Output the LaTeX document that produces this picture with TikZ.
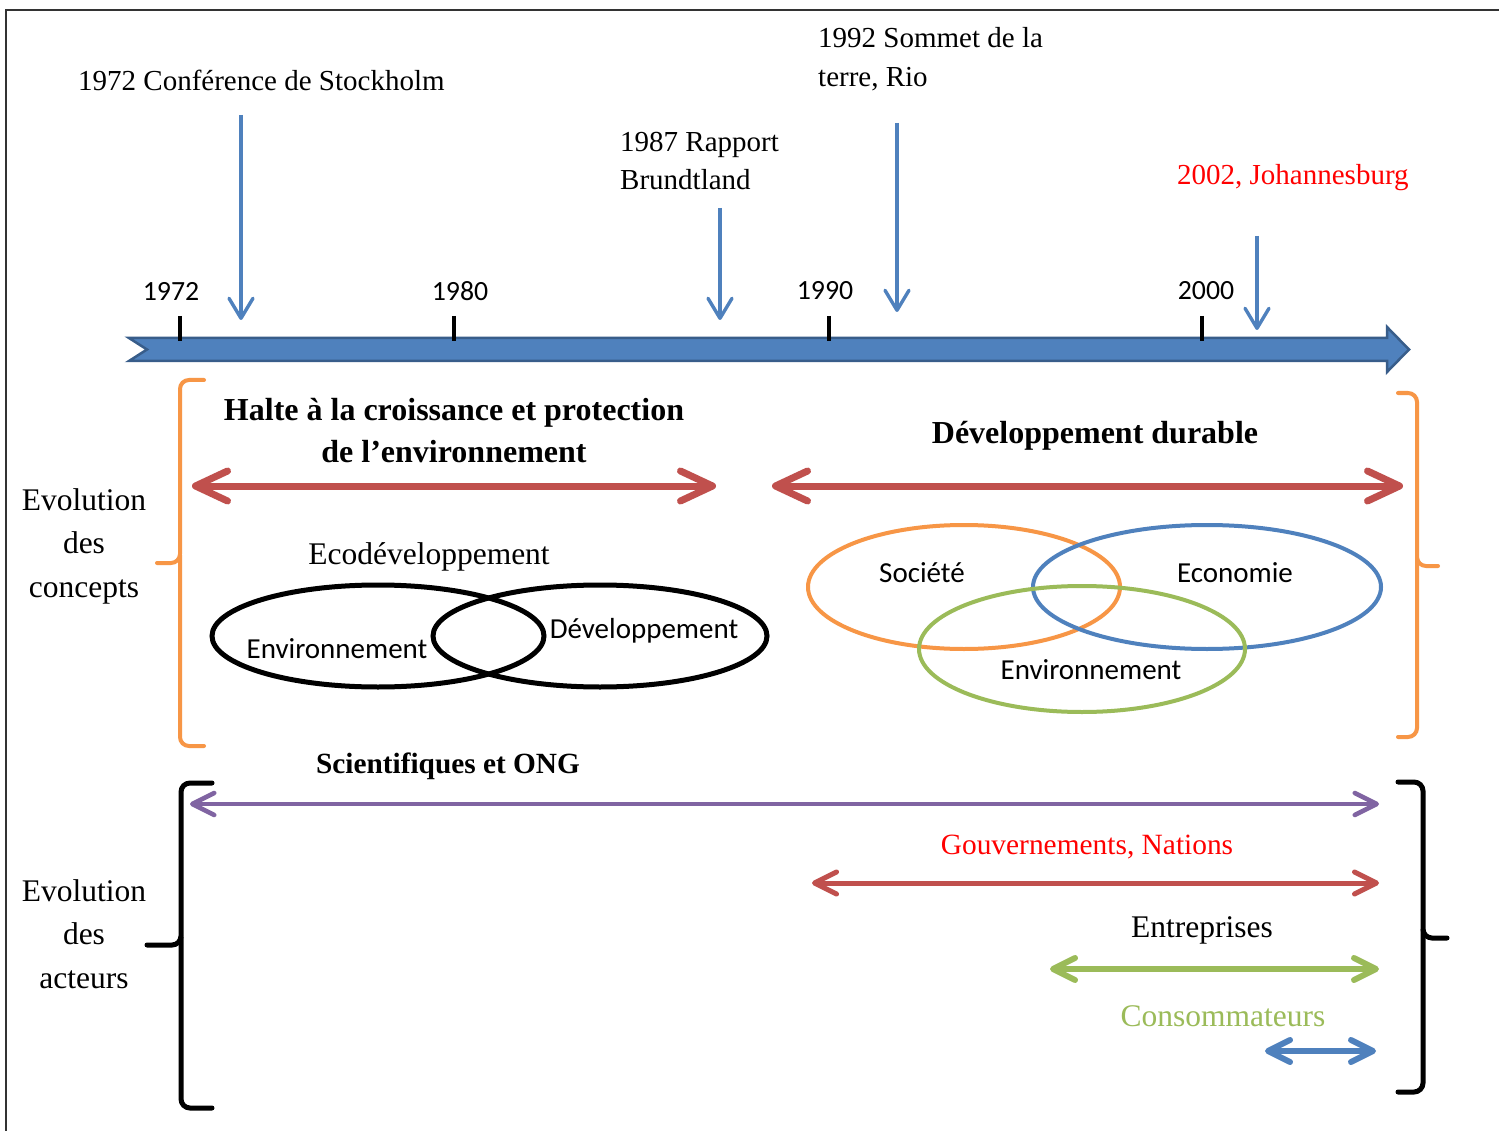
\documentclass[tikz,border=0pt]{standalone}
\usepackage{fontspec}
\setmainfont{Liberation Serif}
\newfontfamily\calfont{Carlito}
\usetikzlibrary{arrows.meta}
\definecolor{tlblue}{HTML}{4F81BD}
\definecolor{tldark}{HTML}{385D8A}
\definecolor{myred}{HTML}{C0504D}
\definecolor{myorange}{HTML}{F79646}
\definecolor{mygreen}{HTML}{9BBB59}
\definecolor{mypurple}{HTML}{8064A2}
\definecolor{brightred}{HTML}{FF0000}
\begin{document}
\begin{tikzpicture}[x=1pt,y=-1pt,
  serif/.style={font=\fontsize{31.5}{43.5}\selectfont, align=center, inner sep=0pt},
  mserif/.style={font=\fontsize{29.4}{40}\selectfont, align=center, inner sep=0pt},
  bserif/.style={font=\bfseries\fontsize{32}{42}\selectfont, align=center, inner sep=0pt},
  mbserif/.style={font=\bfseries\fontsize{29.3}{40}\selectfont, align=center, inner sep=0pt},
  small/.style={font=\fontsize{29}{38.5}\selectfont, align=left, inner sep=0pt},
  sans/.style={font=\calfont\fontsize{29}{35}\selectfont, inner sep=0pt},
  year/.style={font=\calfont\fontsize{27.8}{33}\selectfont, inner sep=0pt},
  evtarrow/.style={tlblue, line width=3.4pt, -{Straight Barb[length=20pt, width=24pt, round]}},
  bigdbl/.style={#1, line width=7pt, {Straight Barb[length=32pt, width=30pt, round]}-{Straight Barb[length=32pt, width=30pt, round]}},
  smalldbl/.style={#1, {Straight Barb[length=22pt, width=22pt, round]}-{Straight Barb[length=22pt, width=22pt, round]}},
  tick/.style={black, line width=4pt},
  brk/.style={line width=4pt, rounded corners=9pt, line cap=round}
]
\useasboundingbox (0,0) rectangle (1499,1131);
\fill[white] (0,0) rectangle (1499,1131);
% frame
\draw[black!80, line width=1.5pt] (6,1131) -- (6,10) -- (1499,10);

% timeline
\draw[tldark, fill=tlblue, line width=2.5pt, line join=miter]
  (129,338) -- (1387,338) -- (1387,327) -- (1409,349.5) -- (1387,372) -- (1387,361) -- (129,361) -- (147,349.5) -- cycle;
\foreach \n/\x in {a/180,b/454,c/829,d/1202}{
  \coordinate (t\n1) at (\x,316);
  \coordinate (t\n2) at (\x,341);
  \draw[tick] (t\n1) -- (t\n2);
}
\node[year] (y1972) at (171,291) {1972};
\node[year] (y1980) at (460,291) {1980};
\node[year] (y1990) at (825,291) {1990};
\node[year] (y2000) at (1206,291) {2000};

% events
\node[small, anchor=west] (e1972) at (78,80) {1972 Conférence de Stockholm};
\node[small, anchor=west] (e1987) at (620,161) {1987 Rapport\\Brundtland};
\node[small, anchor=west] (e1992) at (818,59) {1992 Sommet de la\\terre, Rio};
\node[small, anchor=west, text=brightred] (e2002) at (1177,178) {2002, Johannesburg};
\coordinate (a1s) at (241,115); \coordinate (a1e) at (241,320);
\coordinate (a2s) at (720,208); \coordinate (a2e) at (720,320);
\coordinate (a3s) at (897,123); \coordinate (a3e) at (897,312);
\coordinate (a4s) at (1257,236); \coordinate (a4e) at (1257,330);
\draw[evtarrow] (a1s) -- (a1e);
\draw[evtarrow] (a2s) -- (a2e);
\draw[evtarrow] (a3s) -- (a3e);
\draw[evtarrow] (a4s) -- (a4e);

% concepts brackets
\draw[brk, myorange] (204,380) -- (180,380) -- (180,563) -- (157,563);
\draw[brk, myorange] (180,555) -- (180,746) -- (204,746);
\draw[brk, myorange] (1398,393) -- (1417,393) -- (1417,566) -- (1438,566);
\draw[brk, myorange] (1417,558) -- (1417,737) -- (1398,737);

\node[serif] (conc) at (84,546) {Evolution\\des\\concepts};

\node[bserif] (halte) at (454,431) {Halte à la croissance et protection\\de l’environnement};
\node[bserif] (devdur) at (1095,436) {Développement durable};
\coordinate (r1a) at (192,486); \coordinate (r1b) at (716,486);
\coordinate (r2a) at (772,486); \coordinate (r2b) at (1403,486);
\draw[bigdbl=myred] (r1a) -- (r1b);
\draw[bigdbl=myred] (r2a) -- (r2b);

% ecodeveloppement
\node[serif] (eco) at (429,557) {Ecodéveloppement};
\draw[black, line width=5pt] (378,636) ellipse [x radius=166, y radius=51];
\draw[black, line width=5pt] (600,636) ellipse [x radius=167, y radius=51];
\node[sans] (env1) at (337,649) {Environnement};
\node[sans] (dev1) at (644,631) {Développement};

% venn
\draw[myorange, line width=4pt] (964,587) ellipse [x radius=156, y radius=62];
\draw[tlblue, line width=4pt] (1207,587) ellipse [x radius=174, y radius=62];
\draw[mygreen, line width=4pt] (1082,649) ellipse [x radius=163, y radius=63];
\node[sans] (soc) at (922,573) {Société};
\node[sans] (econ) at (1235,573) {Economie};
\node[sans] (env2) at (1091,670) {Environnement};

% actors
\node[serif] (act) at (84,934) {Evolution\\des\\acteurs};
\draw[brk, black, line width=5pt] (212,783) -- (181,783) -- (181,945) -- (147,945);
\draw[brk, black, line width=5pt] (181,937) -- (181,1108) -- (212,1108);
\draw[brk, black, line width=5pt] (1398,782) -- (1423,782) -- (1423,938) -- (1447,938);
\draw[brk, black, line width=5pt] (1423,930) -- (1423,1092) -- (1398,1092);

\node[mbserif] (sci) at (448,766) {Scientifiques et ONG};
\node[mserif, text=brightred] (gov) at (1087,847) {Gouvernements, Nations};
\node[serif] (ent) at (1202,930) {Entreprises};
\node[serif, text=mygreen] (cons) at (1223,1016) {Consommateurs};

\coordinate (p1) at (190,804); \coordinate (p2) at (1379,804);
\coordinate (g1) at (812,883); \coordinate (g2) at (1379,883);
\coordinate (n1) at (1050,969); \coordinate (n2) at (1379,969);
\coordinate (c1) at (1265,1051); \coordinate (c2) at (1376,1051);
\draw[smalldbl=mypurple, line width=4.5pt] (p1) -- (p2);
\draw[smalldbl=myred, line width=5pt] (g1) -- (g2);
\draw[smalldbl=mygreen, line width=6pt] (n1) -- (n2);
\draw[smalldbl=tlblue, line width=6pt] (c1) -- (c2);
\end{tikzpicture}
\end{document}
